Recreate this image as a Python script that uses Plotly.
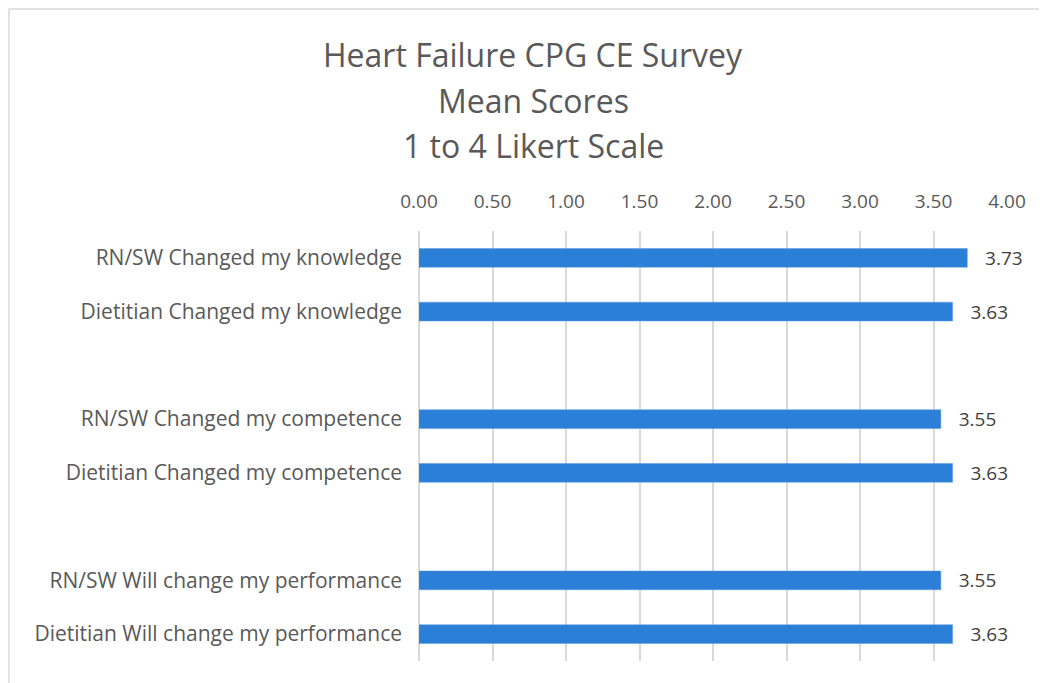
import plotly.graph_objects as go

categories = [
    "RN/SW Changed my knowledge",
    "Dietitian Changed my knowledge",
    " ",
    "RN/SW Changed my competence",
    "Dietitian Changed my competence",
    "  ",
    "RN/SW Will change my performance",
    "Dietitian Will change my performance",
]
values = [3.73, 3.63, None, 3.55, 3.63, None, 3.55, 3.63]
tick_vals = [0, 0.5, 1, 1.5, 2, 2.5, 3, 3.5, 4]
tick_text = ["0.00", "0.50", "1.00", "1.50", "2.00", "2.50", "3.00", "3.50", "4.00"]
title_lines = ["Heart Failure CPG CE Survey", "Mean Scores", "1 to 4 Likert Scale"]

FONT = "Open Sans"
labels = ["   " + f"{v:.2f}" if v is not None else "" for v in values]

fig = go.Figure(go.Bar(
    y=categories, x=values, orientation="h",
    marker=dict(color="#2B7FD6", line=dict(color="#5A9BE0", width=0.5)),
    width=0.35,
    text=labels, textposition="outside", cliponaxis=False, constraintext="none",
    textfont=dict(family=FONT, size=19, color="#404040"),
    hoverinfo="x+y",
))

# page body has an 8px margin; compensate so the plot lands where the reference has it
W, H = 1039, 675
L, R, T, B = 411, 40, 223, 22
plot_w = W - L - R
plot_h = H - T - B

fig.update_layout(
    width=W, height=H,
    margin=dict(l=L, r=R, t=T, b=B),
    paper_bgcolor="white", plot_bgcolor="white",
    showlegend=False,
    font=dict(family=FONT, color="#595959"),
    xaxis=dict(
        side="top", range=[0, 4], tickvals=tick_vals, ticktext=tick_text,
        showgrid=True, gridcolor="#D9D9D9", gridwidth=1.5,
        zeroline=True, zerolinecolor="#D9D9D9", zerolinewidth=1.5,
        showline=False, ticks="", ticklabelstandoff=18,
        tickfont=dict(family=FONT, size=19, color="#595959"),
    ),
    yaxis=dict(
        type="category", categoryorder="array", categoryarray=categories,
        autorange="reversed", showgrid=False, zeroline=False, showline=False,
        ticks="", ticklabelstandoff=16,
        tickfont=dict(family=FONT, size=21, color="#595959"),
    ),
    shapes=[dict(type="rect", xref="paper", yref="paper",
                 x0=(1 - L) / plot_w, x1=1.2, y0=-0.2, y1=1 + (T - 1) / plot_h,
                 line=dict(color="#D9D9D9", width=1.5), layer="below")],
)

title_px = [47, 92, 137]
for txt, py in zip(title_lines, title_px):
    fig.add_annotation(text=txt, xref="paper", yref="paper",
                       x=(525 - L) / plot_w, y=1 + (T - py) / plot_h,
                       xanchor="center", yanchor="middle", showarrow=False,
                       font=dict(family=FONT, size=32, color="#595959"))

fig.write_html("out.html")
